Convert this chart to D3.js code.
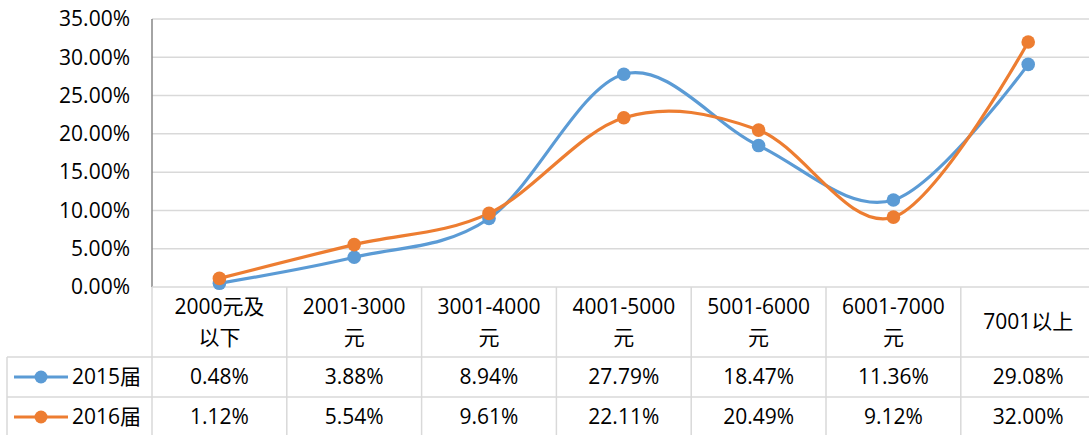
<!DOCTYPE html>
<html>
<head>
<meta charset="utf-8">
<script src="https://cdn.jsdelivr.net/npm/d3@7"></script>
<style>
  html, body { margin: 0; padding: 0; background: #fff; }
  svg { display: block; }
  text { font-family: "Open Sans", "Noto Sans CJK SC", sans-serif; fill: #000; }
</style>
</head>
<body>
<svg id="chart" width="1089" height="435"></svg>
<script>
// Salary bands (header lines of the data table)
const categories = ["2000元及以下", "2001-3000元", "3001-4000元", "4001-5000元", "5001-6000元", "6001-7000元", "7001以上"];
const categoryLines = [["2000元及", "以下"], ["2001-3000", "元"], ["3001-4000", "元"], ["4001-5000", "元"], ["5001-6000", "元"], ["6001-7000", "元"], ["7001以上"]];
// Share of graduates per band, in percent
const series2015 = [0.48, 3.88, 8.94, 27.79, 18.47, 11.36, 29.08];
const series2016 = [1.12, 5.54, 9.61, 22.11, 20.49, 9.12, 32.00];
const seriesNames = ["2015届", "2016届"];
const yTicks = [0, 5, 10, 15, 20, 25, 30, 35];

const colors = ["#5B9BD5", "#ED7D31"];
const gridColor = "#D9D9D9";
const svg = d3.select("#chart");

const plotLeft = 152, plotTop = 19, plotBottom = 287;
const colW = 134.8;
const x = d3.scaleBand().domain(categories).range([plotLeft, plotLeft + colW * categories.length]);
const y = d3.scaleLinear().domain([0, 35]).range([plotBottom, plotTop]);

// horizontal gridlines
svg.append("g").selectAll("line").data(yTicks.filter(d => d > 0)).join("line")
  .attr("x1", plotLeft).attr("x2", 1089)
  .attr("y1", d => y(d)).attr("y2", d => y(d))
  .attr("stroke", gridColor).attr("stroke-width", 1.5);

// value axis
const yAxis = d3.axisLeft(y).tickValues(yTicks).tickSize(0).tickPadding(22)
  .tickFormat(d => d.toFixed(2) + "%");
const yg = svg.append("g").attr("transform", `translate(${plotLeft},0)`).call(yAxis);
yg.select(".domain").remove();
yg.selectAll("text").attr("font-size", 21).attr("font-family", "'Open Sans', sans-serif").attr("fill", "#000");
svg.append("line").attr("x1", plotLeft).attr("x2", plotLeft).attr("y1", plotTop).attr("y2", plotBottom)
  .attr("stroke", "#868686").attr("stroke-width", 1.5);

// data table grid
const tg = svg.append("g").attr("stroke", gridColor).attr("stroke-width", 1.5);
tg.append("line").attr("x1", plotLeft).attr("x2", 1089).attr("y1", plotBottom).attr("y2", plotBottom);
tg.append("line").attr("x1", 7).attr("x2", 1089).attr("y1", 357).attr("y2", 357);
tg.append("line").attr("x1", 7).attr("x2", 1089).attr("y1", 397).attr("y2", 397);
tg.append("line").attr("x1", 7).attr("x2", 7).attr("y1", 357).attr("y2", 435);
tg.selectAll("line.col").data(categories).join("line").attr("class", "col")
  .attr("x1", d => x(d) + x.bandwidth()).attr("x2", d => x(d) + x.bandwidth())
  .attr("y1", plotBottom).attr("y2", 435);
tg.append("line").attr("x1", plotLeft).attr("x2", plotLeft).attr("y1", plotBottom).attr("y2", 435);

// header cells
const cx = d => x(d) + x.bandwidth() / 2;
const header = svg.append("g").attr("font-size", 21).attr("text-anchor", "middle");
categories.forEach((c, i) => {
  const lines = categoryLines[i];
  const mid = (plotBottom + 357) / 2;
  lines.forEach((ln, j) => {
    const yy = lines.length === 1 ? mid : mid + (j - 0.5) * 31.5;
    header.append("text").attr("x", cx(c)).attr("y", yy).attr("dy", "0.35em").text(ln);
  });
});

// value rows
const allSeries = [series2015, series2016];
allSeries.forEach((vals, si) => {
  const rowMid = si === 0 ? 377 : 417;
  svg.append("g").attr("font-size", 21).attr("text-anchor", "middle")
    .selectAll("text").data(vals).join("text")
    .attr("x", (d, i) => cx(categories[i])).attr("y", rowMid).attr("dy", "0.35em")
    .text(d => d.toFixed(2) + "%");
  // legend key
  const lg = svg.append("g");
  lg.append("line").attr("x1", 14).attr("x2", 68).attr("y1", rowMid).attr("y2", rowMid)
    .attr("stroke", colors[si]).attr("stroke-width", 3);
  lg.append("circle").attr("cx", 41).attr("cy", rowMid).attr("r", 6.5).attr("fill", colors[si]);
  lg.append("text").attr("x", 72).attr("y", rowMid).attr("dy", "0.35em").attr("font-size", 21)
    .text(seriesNames[si]);
});

// smoothed lines with markers
const line = d3.line().x((d, i) => cx(categories[i])).y(d => y(d)).curve(d3.curveCatmullRom.alpha(0));
allSeries.forEach((vals, si) => {
  svg.append("path").datum(vals).attr("d", line).attr("fill", "none")
    .attr("stroke", colors[si]).attr("stroke-width", 3.2).attr("stroke-linecap", "round");
});
allSeries.forEach((vals, si) => {
  svg.append("g").selectAll("circle").data(vals).join("circle")
    .attr("cx", (d, i) => cx(categories[i])).attr("cy", d => y(d)).attr("r", 6.8)
    .attr("fill", colors[si]);
});
</script>
</body>
</html>
